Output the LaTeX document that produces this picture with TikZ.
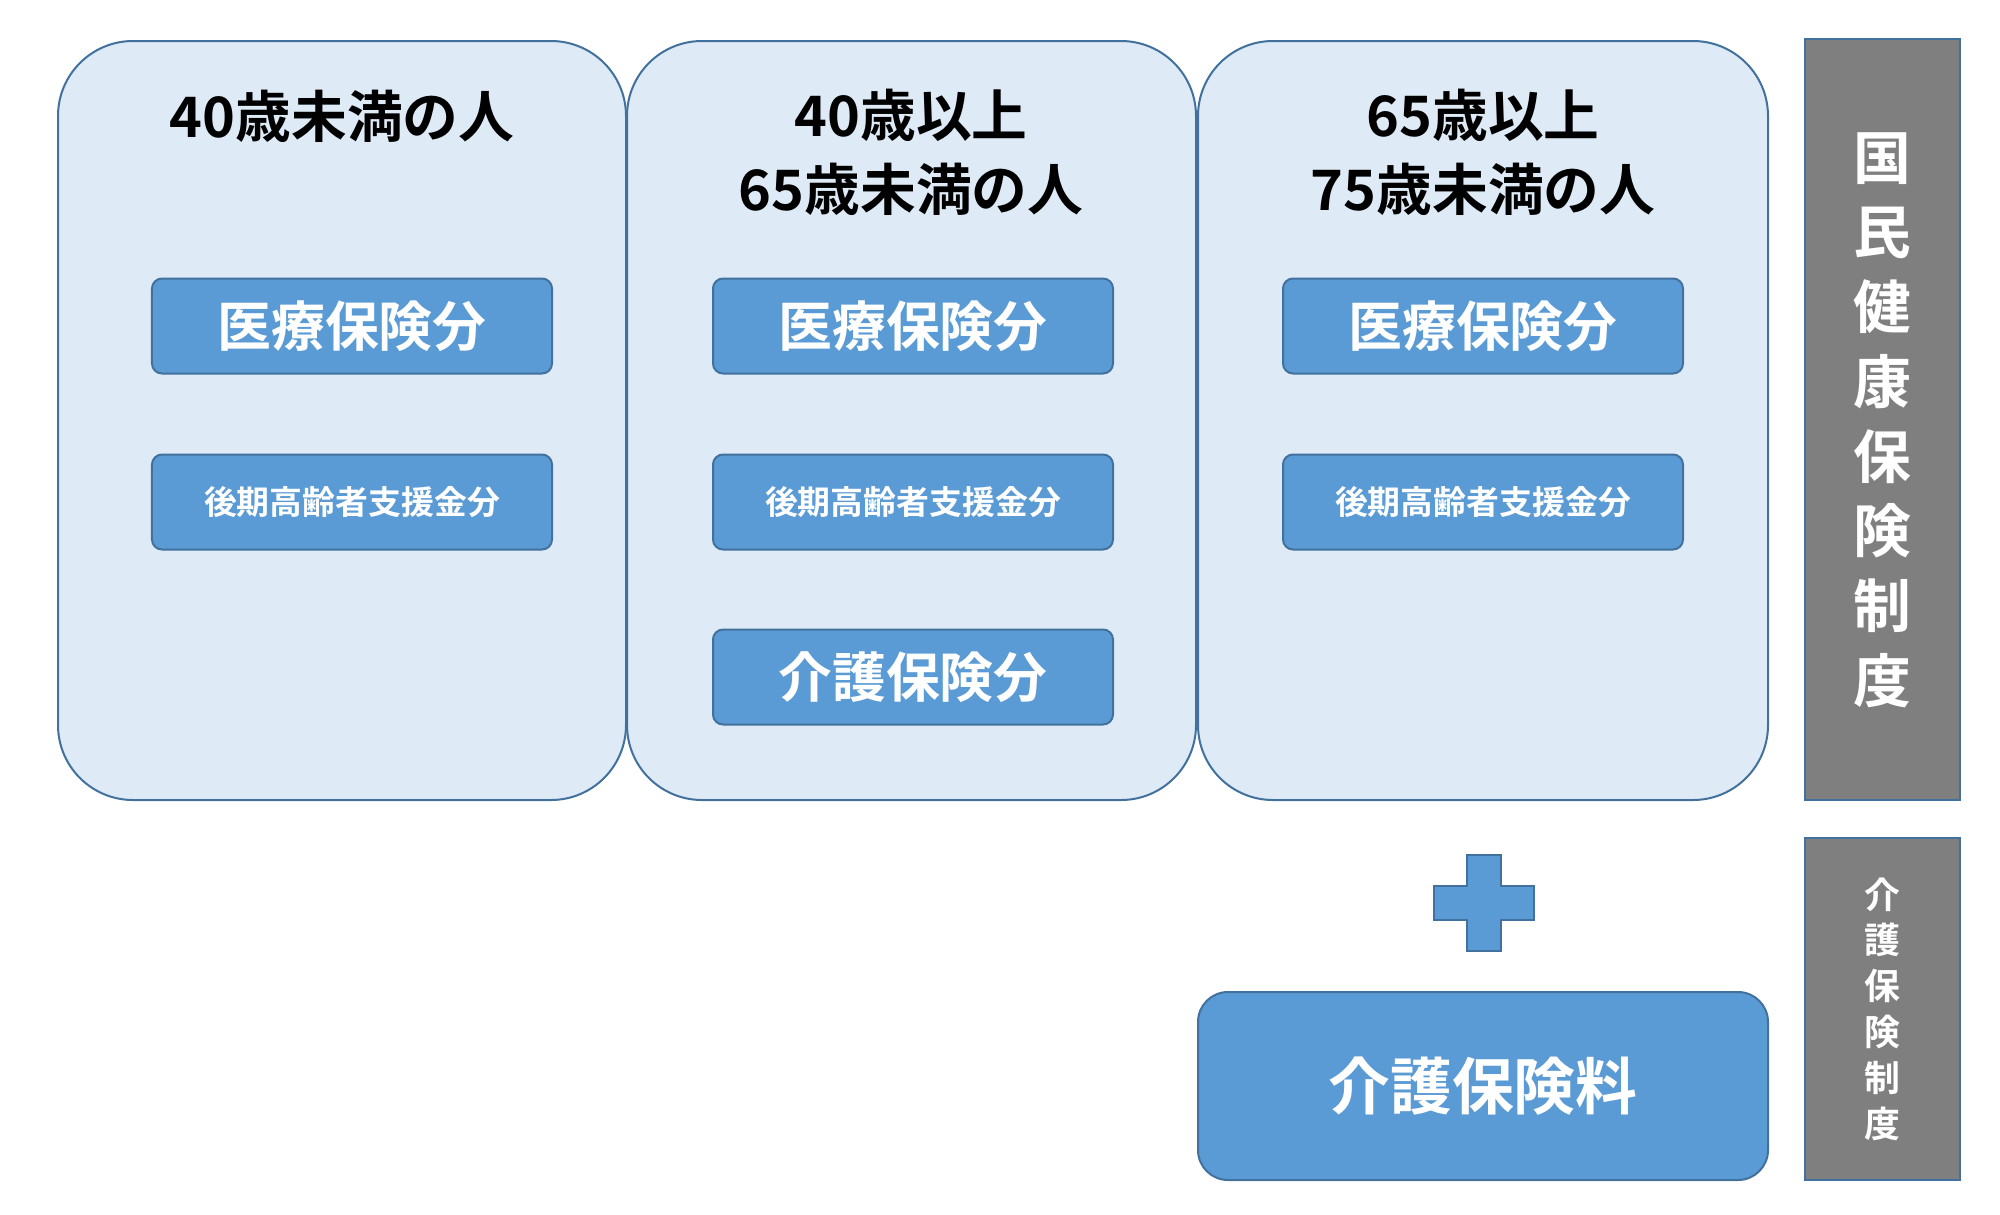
\documentclass[tikz,border=0pt]{standalone}
\usepackage{fontspec}
\setmainfont{Noto Sans CJK JP}
\newfontfamily\jp{Noto Sans CJK JP Bold}
\definecolor{bb}{RGB}{91,155,213}
\definecolor{bd}{RGB}{65,113,156}
\definecolor{lb}{RGB}{222,235,247}
\definecolor{gg}{RGB}{127,127,127}
\begin{document}
\begin{tikzpicture}[x=1bp,y=-1bp,
 col/.style={draw=bd,line width=2bp,fill=lb,rounded corners=75bp},
 ibox/.style={draw=bd,line width=2bp,fill=bb,rounded corners=10bp,minimum width=400bp,minimum height=95bp,text=white,font=\jp},
 gbox/.style={draw=bd,line width=2bp,fill=gg}]
\useasboundingbox (0,0) rectangle (2000,1214);
\fill[white] (0,0) rectangle (2000,1214);
\foreach \a/\b in {58/626,627/1196,1198/1768}{
 \draw[col] (\a,41) rectangle (\b,800);}
\tikzset{ttl/.style={font=\jp\fontsize{56}{74}\selectfont,align=center}}
\node[ttl] (t1) at (342,116) {40歳未満の人};
\node[ttl] (t2) at (911,152) {40歳以上\\65歳未満の人};
\node[ttl] (t3) at (1483,152) {65歳以上\\75歳未満の人};
\foreach \x/\i in {352/1,913/2,1483/3}{
 \node[ibox,font=\jp\fontsize{54}{60}\selectfont] (m\i) at (\x,326) {医療保険分};
 \node[ibox,font=\jp\fontsize{33}{40}\selectfont] (k\i) at (\x,502) {後期高齢者支援金分};}
\node[ibox,font=\jp\fontsize{54}{60}\selectfont] (n2) at (913,677) {介護保険分};
\draw[gbox] (1805,39) rectangle (1960,800);
\draw[gbox] (1805,838) rectangle (1960,1180);
\node[text=white,font=\jp\fontsize{58}{75}\selectfont,align=center] (g1) at (1882,420) {国\\民\\健\\康\\保\\険\\制\\度};
\node[text=white,font=\jp\fontsize{36}{46}\selectfont,align=center] (g2) at (1882,1009) {介\\護\\保\\険\\制\\度};
\filldraw[fill=bb,draw=bd,line width=1.5bp]
 (1467,855)--(1501,855)--(1501,886)--(1534,886)--(1534,920)--(1501,920)--(1501,951)--(1467,951)--(1467,920)--(1434,920)--(1434,886)--(1467,886)--cycle;
\node[ibox,minimum width=570bp,minimum height=188bp,rounded corners=30bp,font=\jp\fontsize{62}{70}\selectfont] (kg) at (1483,1086) {介護保険料};
\end{tikzpicture}
\end{document}
